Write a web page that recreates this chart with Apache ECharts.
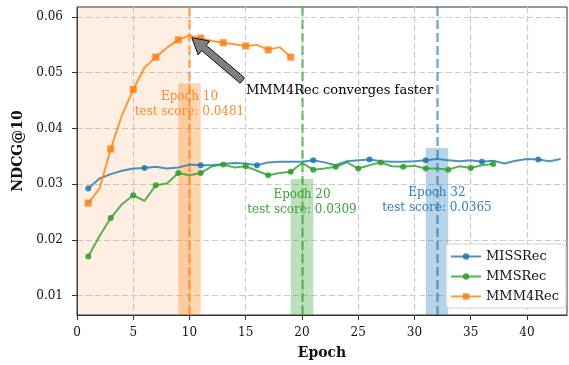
<!DOCTYPE html>
<html>
<head>
<meta charset="utf-8">
<script src="https://cdn.jsdelivr.net/npm/echarts@6/dist/echarts.min.js"></script>
<style>
  html, body { margin: 0; padding: 0; background: #fff; }
  #chart { width: 569px; height: 365px; }
</style>
</head>
<body>
<div id="chart"></div>
<script>
// values (epoch = index + 1)
const missrec = [0.0292, 0.0310, 0.0318, 0.0324, 0.0328, 0.0329, 0.0331, 0.0328, 0.0330, 0.0335,
                 0.0334, 0.0334, 0.0336, 0.0338, 0.0337, 0.0334, 0.0339, 0.0340, 0.0340, 0.0340,
                 0.0343, 0.0339, 0.0334, 0.0341, 0.0343, 0.0344, 0.0341, 0.0340, 0.0340, 0.0341,
                 0.0343, 0.0345, 0.0343, 0.0341, 0.0343, 0.0340, 0.0342, 0.0337, 0.0342, 0.0345,
                 0.0344, 0.0341, 0.0345];
const mmsrec = [0.0170, 0.0207, 0.0239, 0.0264, 0.0280, 0.0270, 0.0298, 0.0301, 0.0320, 0.0316,
                0.0320, 0.0332, 0.0335, 0.0330, 0.0332, 0.0324, 0.0316, 0.0320, 0.0322, 0.0338,
                0.0326, 0.0328, 0.0331, 0.0339, 0.0328, 0.0334, 0.0339, 0.0332, 0.0331, 0.0333,
                0.0328, 0.0328, 0.0326, 0.0332, 0.0329, 0.0334, 0.0336];
const mmm4rec = [0.0266, 0.0292, 0.0363, 0.0424, 0.0470, 0.0509, 0.0528, 0.0545, 0.0559, 0.0567,
                 0.0562, 0.0557, 0.0554, 0.0551, 0.0548, 0.0550, 0.0541, 0.0546, 0.0528];

// epochs that carry a marker
const missMarks = [1, 6, 11, 16, 21, 26, 31, 36, 41];
const mmsMarks = [1, 3, 5, 7, 9, 11, 13, 15, 17, 19, 21, 23, 25, 27, 29, 31, 33, 35, 37];
const mmm4Marks = [1, 3, 5, 7, 9, 11, 13, 15, 17, 19];

// best epochs and their test scores
const bestEpochs = [10, 20, 32];
const testScores = [0.0481, 0.0309, 0.0365];

const xTicks = [0, 5, 10, 15, 20, 25, 30, 35, 40];
const yTicks = [0.01, 0.02, 0.03, 0.04, 0.05, 0.06];

const X_MIN = 0, X_MAX = 43.56, Y_MIN = 0.0065, Y_MAX = 0.0618;
const FONT = 'DejaVu Serif';
const colors = ['#1f77b4', '#2ca02c', '#ff7f0e'];
const rgba = (hex, a) => {
    const n = parseInt(hex.slice(1), 16);
    return 'rgba(' + (n >> 16) + ',' + ((n >> 8) & 255) + ',' + (n & 255) + ',' + a + ')';
};

function toData(values, marks) {
    return values.map((v, i) => {
        const ep = i + 1;
        return marks.includes(ep) ? [ep, v] : { value: [ep, v], symbol: 'none' };
    });
}

function lineSeries(name, values, marks, color, symbol, size, extra) {
    return Object.assign({
        name: name,
        type: 'line',
        data: toData(values, marks),
        symbol: symbol,
        symbolSize: size,
        showAllSymbol: true,
        z: 5,
        lineStyle: { color: rgba(color, 0.8), width: 2 },
        itemStyle: { color: rgba(color, 0.85) }
    }, extra || {});
}

// vertical dashed line + test-score bar per best epoch
function bestMarks(k) {
    const c = [colors[2], colors[1], colors[0]][k];
    return {
        markLine: {
            silent: true, symbol: 'none', label: { show: false },
            lineStyle: { color: rgba(c, 0.6), width: 2.5, type: [9, 4] },
            data: [{ xAxis: bestEpochs[k] }]
        },
        markArea: {
            silent: true,
            itemStyle: { color: rgba(c, 0.32) },
            data: [[{ coord: [bestEpochs[k] - 1, Y_MIN] }, { coord: [bestEpochs[k] + 1, testScores[k]] }]]
        }
    };
}

const chart = echarts.init(document.getElementById('chart'));

const noteY = [0.04435, 0.02665, 0.02715];
const noteColors = ['#fb8a2a', '#38a338', '#2f80ba'];

chart.setOption({
    animation: false,
    textStyle: { fontFamily: FONT },
    grid: { left: 77, right: 2, top: 7, bottom: 50, show: true, borderColor: '#333', borderWidth: 1 },
    legend: {
        data: ['MISSRec', 'MMSRec', 'MMM4Rec'],
        orient: 'vertical', right: 3, bottom: 57,
        itemWidth: 30, itemHeight: 8, itemGap: 7,
        padding: [6, 7, 5, 4],
        backgroundColor: 'rgba(255,255,255,0.85)',
        borderColor: '#d0d0d0', borderWidth: 1, borderRadius: 3,
        textStyle: { fontFamily: FONT, fontSize: 13, color: '#111' }
    },
    xAxis: {
        type: 'value', min: X_MIN, max: X_MAX,
        name: 'Epoch', nameLocation: 'middle', nameGap: 31,
        nameTextStyle: { fontFamily: FONT, fontWeight: 'bold', fontSize: 14, color: '#111' },
        axisLine: { show: true, lineStyle: { color: '#333' } },
        axisTick: { show: true, length: 5, customValues: xTicks, lineStyle: { color: '#333' } },
        axisLabel: { customValues: xTicks, margin: 12, fontSize: 12, color: '#111', fontFamily: FONT },
        splitLine: { show: true, lineStyle: { color: '#cccccc', width: 1.2, type: [6, 3] } }
    },
    yAxis: {
        type: 'value', min: Y_MIN, max: Y_MAX,
        name: 'NDCG@10', nameLocation: 'middle', nameGap: 48,
        nameTextStyle: { fontFamily: FONT, fontWeight: 'bold', fontSize: 14, color: '#111', padding: [0, 0, 0, 20] },
        axisLine: { show: true, lineStyle: { color: '#333' } },
        axisTick: { show: true, length: 5, customValues: yTicks, lineStyle: { color: '#333' } },
        axisLabel: { customValues: yTicks, margin: 14, fontSize: 12, color: '#111', fontFamily: FONT,
                     formatter: v => v.toFixed(2) },
        splitLine: { show: true, lineStyle: { color: '#cccccc', width: 1.2, type: [6, 3] } }
    },
    series: [
        lineSeries('MISSRec', missrec, missMarks, colors[0], 'circle', 6, bestMarks(2)),
        lineSeries('MMSRec', mmsrec, mmsMarks, colors[1], 'circle', 6, bestMarks(1)),
        lineSeries('MMM4Rec', mmm4rec, mmm4Marks, colors[2], 'rect', 7, (function () {
            const m = bestMarks(0);
            m.markArea.data.unshift([
                { coord: [X_MIN, Y_MAX], itemStyle: { color: rgba(colors[2], 0.12) } },
                { coord: [bestEpochs[0], Y_MIN] }
            ]);
            return m;
        })()),
        {
            name: 'notes', type: 'scatter', symbolSize: 0, z: 20, silent: true,
            itemStyle: { opacity: 1 },
            data: bestEpochs.map((ep, k) => ({
                value: [ep, noteY[k]],
                label: {
                    show: true, position: 'inside', align: 'center', verticalAlign: 'middle',
                    lineHeight: 15, fontSize: 12, fontFamily: FONT,
                    color: noteColors[k],
                    formatter: 'Epoch ' + ep + '\ntest score: ' + testScores[k].toFixed(4)
                }
            })).concat([{
                value: [15.02, 0.0468],
                label: {
                    show: true, position: 'inside', align: 'left', verticalAlign: 'middle',
                    fontSize: 13, fontFamily: FONT, color: '#000',
                    formatter: 'MMM4Rec converges faster'
                }
            }])
        }
    ]
});

// gray annotation arrow from the note to the MMM4Rec peak
const tip = chart.convertToPixel({ gridIndex: 0 }, [10.2, 0.0563]);
const tail = chart.convertToPixel({ gridIndex: 0 }, [14.7, 0.0486]);
const dx = tip[0] - tail[0], dy = tip[1] - tail[1];
const len = Math.hypot(dx, dy);
const ux = dx / len, uy = dy / len, nx = -uy, ny = ux;
const shaftW = 3.5, headW = 9, headL = 16;
const hx = tip[0] - ux * headL, hy = tip[1] - uy * headL;
chart.setOption({
    graphic: [{
        type: 'polygon', z: 30, silent: true,
        shape: { points: [
            [tail[0] + nx * shaftW, tail[1] + ny * shaftW],
            [hx + nx * shaftW, hy + ny * shaftW],
            [hx + nx * headW, hy + ny * headW],
            tip,
            [hx - nx * headW, hy - ny * headW],
            [hx - nx * shaftW, hy - ny * shaftW],
            [tail[0] - nx * shaftW, tail[1] - ny * shaftW]
        ] },
        style: { fill: '#808080', stroke: '#111', lineWidth: 1 }
    }]
});
</script>
</body>
</html>
